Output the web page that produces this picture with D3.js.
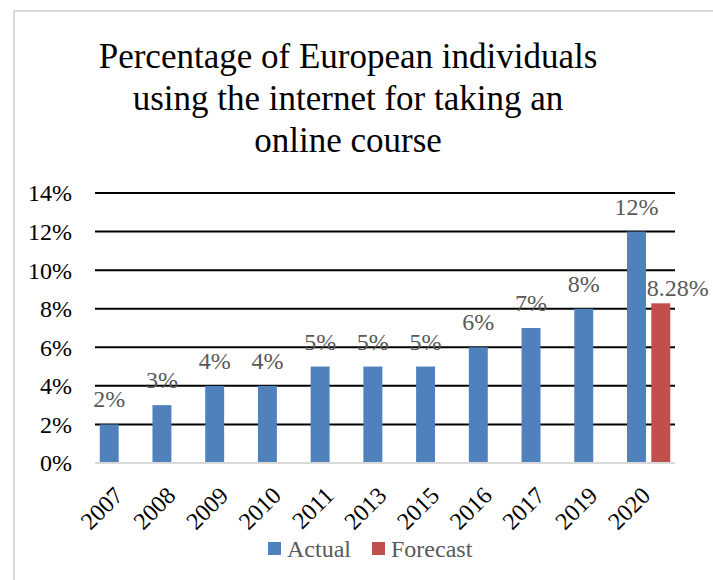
<!DOCTYPE html>
<html>
<head>
<meta charset="utf-8">
<script src="https://cdn.jsdelivr.net/npm/d3@7/dist/d3.min.js"></script>
<style>
  html, body { margin: 0; padding: 0; background: #fff; }
  svg { display: block; }
</style>
</head>
<body>
<svg id="chart" width="713" height="580"></svg>
<script>
const categories = ["2007","2008","2009","2010","2011","2013","2015","2016","2017","2019","2020"];
const actualValues = [2, 3, 4, 4, 5, 5, 5, 6, 7, 8, 12];
const forecastValues = [null, null, null, null, null, null, null, null, null, null, 8.28];
const actualLabels = ["2%","3%","4%","4%","5%","5%","5%","6%","7%","8%","12%"];
const forecastLabels = [null, null, null, null, null, null, null, null, null, null, "8.28%"];
const seriesNames = ["Actual", "Forecast"];
const yTicks = [0, 2, 4, 6, 8, 10, 12, 14];
const titleLines = ["Percentage of European individuals", "using the internet for taking an", "online course"];

const colors = { Actual: "#4f81bd", Forecast: "#c0504d" };
const FONT = "'Liberation Serif', 'Times New Roman', serif";

const svg = d3.select("#chart");

// chart area border
svg.append("rect")
  .attr("x", 14).attr("y", 11)
  .attr("width", 740).attr("height", 620)
  .attr("fill", "none")
  .attr("stroke", "#d9d9d9").attr("stroke-width", 2);

// title
svg.append("g").selectAll("text")
  .data(titleLines)
  .join("text")
  .attr("x", 348)
  .attr("y", (d, i) => 68 + i * 42)
  .attr("text-anchor", "middle")
  .attr("font-family", FONT)
  .attr("font-size", 35)
  .attr("fill", "#000")
  .text(d => d);

const plotL = 95, plotR = 675, plotT = 193, plotB = 463;

const x0 = d3.scaleBand().domain(categories).range([plotL, plotR]).paddingInner(0.18).paddingOuter(0.09);
const x1 = d3.scaleBand().domain(seriesNames).range([0, x0.bandwidth()]).paddingInner(0.22);
const y = d3.scaleLinear().domain([0, 14]).range([plotB, plotT]);

// gridlines
svg.append("g").selectAll("line")
  .data(yTicks.filter(t => t > 0))
  .join("line")
  .attr("x1", plotL).attr("x2", plotR)
  .attr("y1", d => y(d)).attr("y2", d => y(d))
  .attr("stroke", "#000").attr("stroke-width", 2);

// y axis labels
const yAxis = d3.axisLeft(y).tickValues(yTicks).tickFormat(d => d + "%").tickSize(0).tickPadding(0);
const yg = svg.append("g").attr("transform", `translate(${plotL - 23},0)`).call(yAxis);
yg.select(".domain").remove();
yg.selectAll("text")
  .attr("font-family", FONT).attr("font-size", 24).attr("fill", "#000")
  .attr("dy", "0.33em");

// bars
const rows = categories.map((c, i) => ({ cat: c, Actual: actualValues[i], Forecast: forecastValues[i], aLab: actualLabels[i], fLab: forecastLabels[i] }));

const groups = svg.append("g").selectAll("g")
  .data(rows)
  .join("g")
  .attr("transform", d => `translate(${x0(d.cat)},0)`);

groups.selectAll("rect")
  .data(d => seriesNames.filter(s => d[s] != null).map(s => ({ s, v: d[s] })))
  .join("rect")
  .attr("x", d => x1(d.s))
  .attr("width", x1.bandwidth())
  .attr("y", d => y(d.v))
  .attr("height", d => y(0) - y(d.v))
  .attr("fill", d => colors[d.s]);

// zero axis line
svg.append("line")
  .attr("x1", plotL).attr("x2", plotR)
  .attr("y1", y(0)).attr("y2", y(0))
  .attr("stroke", "#d9d9d9").attr("stroke-width", 2);

// data labels
groups.append("text")
  .attr("x", x1("Actual") + x1.bandwidth() / 2)
  .attr("y", d => y(d.Actual) - 17)
  .attr("text-anchor", "middle")
  .attr("font-family", FONT).attr("font-size", 24).attr("fill", "#595959")
  .text(d => d.aLab);

groups.filter(d => d.Forecast != null).append("text")
  .attr("x", x1("Forecast") + x1.bandwidth() / 2 + 17)
  .attr("y", d => y(d.Forecast) - 7)
  .attr("text-anchor", "middle")
  .attr("font-family", FONT).attr("font-size", 24).attr("fill", "#595959")
  .text(d => d.fLab);

// x axis labels
svg.append("g").selectAll("text")
  .data(categories)
  .join("text")
  .attr("transform", d => `translate(${x0(d) + x0.bandwidth() / 2 + 3},${plotB + 34}) rotate(-45)`)
  .attr("text-anchor", "end")
  .attr("font-family", FONT).attr("font-size", 24).attr("fill", "#000")
  .text(d => d);

// legend
const legendItems = [{ s: "Actual", x: 268 }, { s: "Forecast", x: 372 }];
const lg = svg.append("g").selectAll("g").data(legendItems).join("g");
lg.append("rect")
  .attr("x", d => d.x).attr("y", 542)
  .attr("width", 13).attr("height", 13)
  .attr("fill", d => colors[d.s]);
lg.append("text")
  .attr("x", d => d.x + 19).attr("y", 557)
  .attr("font-family", FONT).attr("font-size", 24).attr("fill", "#595959")
  .text(d => d.s);
</script>
</body>
</html>
